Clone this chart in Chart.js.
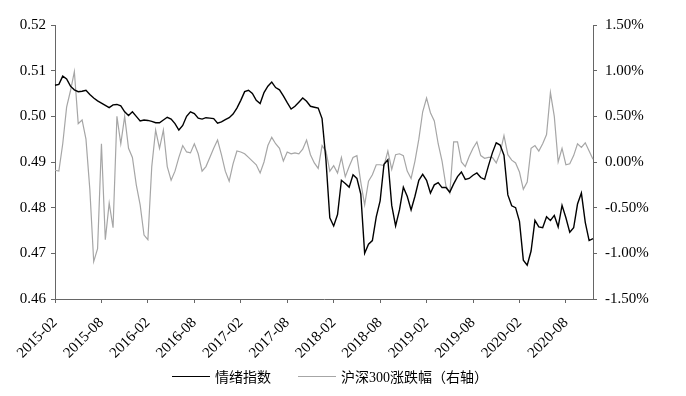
<!DOCTYPE html>
<html>
<head>
<meta charset="utf-8">
<script src="https://cdn.jsdelivr.net/npm/chart.js@4"></script>
<style>
  html, body { margin: 0; padding: 0; background: #fff; }
  #wrap { width: 686px; height: 396px; position: relative; }
  #legend {
    position: absolute; left: 172px; top: 366px; height: 20px;
    display: flex; align-items: center;
    font: 14px 'Liberation Serif', 'Noto Sans CJK SC', serif; color: #000;
  }
  #legend .item { display: flex; align-items: center; margin-right: 27px; }
  #legend .swatch { display: inline-block; width: 38px; height: 0; margin-right: 5px; }
</style>
</head>
<body>
<div id="wrap">
  <canvas id="chart"></canvas>
  <div id="legend"></div>
</div>
<script>
// half-month points from 2015-02-01 to 2020-11-16
const firstYear = 2015, firstMonth = 2, pointCount = 140;
const dates = [];
for (let k = 0; k < pointCount; k++) {
  const m = firstMonth - 1 + Math.floor(k / 2);
  const y = firstYear + Math.floor(m / 12);
  const mm = String(m % 12 + 1).padStart(2, '0');
  dates.push(y + '-' + mm + (k % 2 ? '-16' : '-01'));
}

const tickLabels = ['2015-02', '2015-08', '2016-02', '2016-08', '2017-02', '2017-08',
  '2018-02', '2018-08', '2019-02', '2019-08', '2020-02', '2020-08'];

// 情绪指数 (left axis)
const sentiment = [
  0.5068, 0.5070, 0.5088, 0.5082, 0.5066, 0.5058, 0.5054, 0.5055, 0.5057, 0.5048,
  0.5040, 0.5034, 0.5029, 0.5024, 0.5019, 0.5025, 0.5026, 0.5023, 0.5010, 0.5002,
  0.5010, 0.5000, 0.4990, 0.4992, 0.4991, 0.4989, 0.4986, 0.4986, 0.4992, 0.4998,
  0.4994, 0.4984, 0.4970, 0.4980, 0.5000, 0.5010, 0.5006, 0.4996, 0.4994, 0.4997,
  0.4996, 0.4995, 0.4985, 0.4988, 0.4993, 0.4997, 0.5005, 0.5018, 0.5035, 0.5054,
  0.5057, 0.5050, 0.5035, 0.5028, 0.5052, 0.5066, 0.5075, 0.5063, 0.5058, 0.5045,
  0.5030, 0.5016, 0.5022, 0.5031, 0.5040, 0.5033, 0.5022, 0.5020, 0.5018, 0.4995,
  0.4905, 0.4778, 0.4760, 0.4785, 0.4860, 0.4853, 0.4845, 0.4872, 0.4864, 0.4830,
  0.4700, 0.4720, 0.4728, 0.4780, 0.4815, 0.4895, 0.4905, 0.4805, 0.4760, 0.4795,
  0.4845, 0.4825, 0.4795, 0.4825, 0.4860, 0.4873, 0.4860, 0.4832, 0.4850, 0.4855,
  0.4844, 0.4844, 0.4834, 0.4852, 0.4868, 0.4878, 0.4862, 0.4864, 0.4871, 0.4876,
  0.4866, 0.4862, 0.4892, 0.4920, 0.4942, 0.4937, 0.4915, 0.4828, 0.4804, 0.4800,
  0.4770, 0.4685, 0.4674, 0.4705, 0.4772, 0.4758, 0.4756, 0.4780, 0.4772, 0.4783,
  0.4758, 0.4805, 0.4778, 0.4746, 0.4756, 0.4808, 0.4832, 0.4768, 0.4728, 0.4732
];

// 沪深300涨跌幅 in % (right axis)
const hs300 = [
  -0.09, -0.10, 0.20, 0.60, 0.78, 0.99, 0.42, 0.46, 0.25, -0.30,
  -1.09, -0.95, 0.20, -0.85, -0.45, -0.72, 0.50, 0.20, 0.50, 0.15,
  0.05, -0.25, -0.47, -0.80, -0.85, -0.05, 0.35, 0.15, 0.35, -0.05,
  -0.20, -0.10, 0.05, 0.18, 0.11, 0.10, 0.20, 0.09, -0.10, -0.05,
  0.05, 0.15, 0.24, 0.08, -0.10, -0.21, -0.02, 0.12, 0.11, 0.09,
  0.05, 0.01, -0.03, -0.12, 0.00, 0.18, 0.27, 0.20, 0.15, 0.01,
  0.11, 0.09, 0.10, 0.09, 0.14, 0.24, 0.08, -0.01, -0.07, 0.18,
  0.12, -0.10, -0.04, -0.12, 0.05, -0.16, -0.05, 0.05, 0.07, -0.22,
  -0.47, -0.21, -0.14, -0.03, -0.03, -0.04, 0.12, -0.08, 0.08, 0.09,
  0.07, -0.10, -0.18, 0.01, 0.25, 0.55, 0.70, 0.54, 0.45, 0.20,
  0.01, -0.26, -0.34, 0.22, 0.22, 0.00, -0.05, 0.06, 0.15, 0.22,
  0.07, 0.04, 0.05, 0.05, -0.01, 0.10, 0.29, 0.08, 0.02, -0.01,
  -0.11, -0.30, -0.22, 0.15, 0.18, 0.12, 0.20, 0.30, 0.76, 0.50,
  0.00, 0.15, -0.03, -0.02, 0.07, 0.20, 0.16, 0.21, 0.12, 0.03
];

const axisColor = '#666';
const tickFont = { family: "'Liberation Serif', 'Times New Roman', serif", size: 15 };

const chart = new Chart(document.getElementById('chart'), {
  type: 'line',
  data: {
    labels: dates,
    datasets: [
      {
        label: '情绪指数',
        data: sentiment,
        yAxisID: 'y',
        borderColor: '#000',
        borderWidth: 1.4,
        pointRadius: 0,
        tension: 0
      },
      {
        label: '沪深300涨跌幅（右轴）',
        data: hs300,
        yAxisID: 'y1',
        borderColor: '#a6a6a6',
        borderWidth: 1.2,
        pointRadius: 0,
        tension: 0
      }
    ]
  },
  options: {
    responsive: true,
    maintainAspectRatio: false,
    animation: false,
    layout: { padding: { top: 25, bottom: 3, left: 0, right: 20 } },
    plugins: {
      tooltip: { enabled: false },
      legend: { display: false }
    },
    scales: {
      x: {
        type: 'category',
        grid: {
          drawOnChartArea: false,
          tickLength: 4,
          tickColor: ctx => (ctx.index % 12 === 0 ? axisColor : 'rgba(0,0,0,0)')
        },
        border: { color: axisColor, width: 1 },
        ticks: {
          autoSkip: false,
          maxRotation: 45,
          minRotation: 45,
          padding: 11,
          color: '#000',
          font: tickFont,
          callback: (v, i) => (i % 12 === 0 ? tickLabels[i / 12] : '')
        },
        afterFit: s => { s.height = 94; }
      },
      y: {
        position: 'left',
        min: 0.46,
        max: 0.52,
        grid: { drawOnChartArea: false, tickLength: 4, tickColor: axisColor },
        border: { color: axisColor, width: 1 },
        ticks: {
          stepSize: 0.01,
          padding: 5,
          color: '#000',
          font: tickFont,
          callback: v => v.toFixed(2)
        },
        afterFit: s => { s.width = 55; }
      },
      y1: {
        position: 'right',
        min: -1.5,
        max: 1.5,
        grid: { drawOnChartArea: false, tickLength: 4, tickColor: axisColor },
        border: { color: axisColor, width: 1 },
        ticks: {
          stepSize: 0.5,
          padding: 8,
          color: '#000',
          font: tickFont,
          callback: v => v.toFixed(2) + '%'
        },
        afterFit: s => { s.width = 73; }
      }
    }
  }
});

// legend built from the chart's datasets
const legendEl = document.getElementById('legend');
chart.data.datasets.forEach(ds => {
  const item = document.createElement('span');
  item.className = 'item';
  const sw = document.createElement('span');
  sw.className = 'swatch';
  sw.style.borderTop = ds.borderWidth + 'px solid ' + ds.borderColor;
  const txt = document.createElement('span');
  txt.textContent = ds.label;
  item.appendChild(sw);
  item.appendChild(txt);
  legendEl.appendChild(item);
});
</script>
</body>
</html>
